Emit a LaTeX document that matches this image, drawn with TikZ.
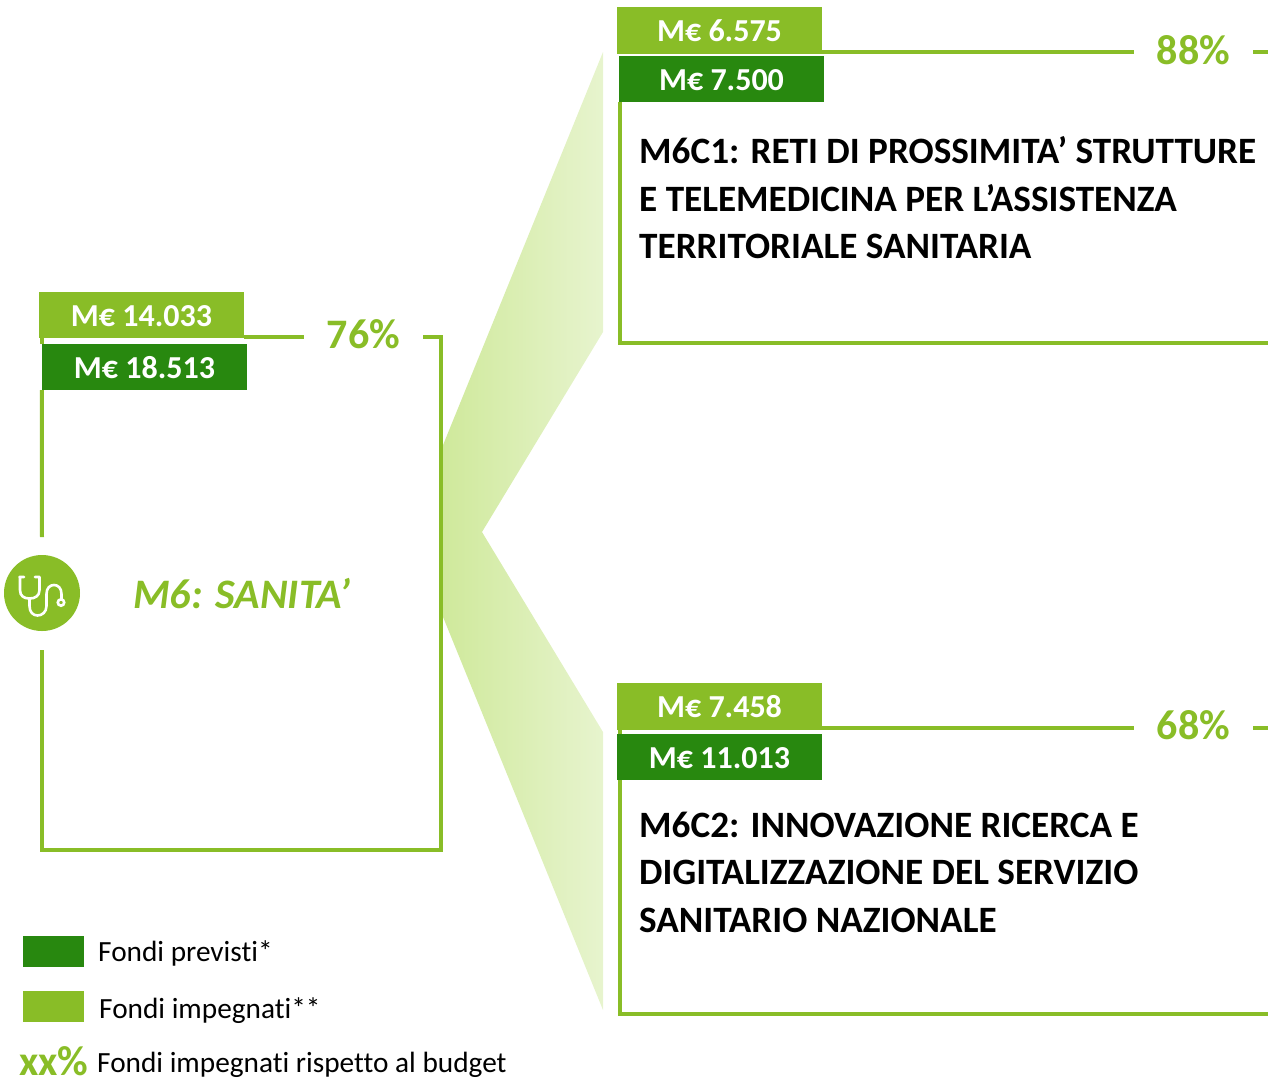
\documentclass[tikz,border=0pt]{standalone}
\usepackage{fontspec}
\setmainfont[Ligatures=NoCommon]{Carlito}
\usepackage{xcolor}
\usetikzlibrary{calc,positioning}
\definecolor{lightgreen}{HTML}{89BD27}
\definecolor{darkgreen}{HTML}{28880F}
\definecolor{funnelleft}{HTML}{CFE99B}
\definecolor{funnelright}{HTML}{E7F4CE}

\begin{document}
\begin{tikzpicture}[x=1pt,y=-1pt]

\tikzstyle{lightbadge} = [fill=lightgreen, text=white, rectangle, inner sep=0pt, minimum width=205pt, minimum height=46pt, text height=22.5pt, text depth=0pt, font=\fontsize{32}{32}\selectfont\bfseries]
\tikzstyle{darkbadge} = [fill=darkgreen, text=white, rectangle, inner sep=0pt, minimum width=205pt, minimum height=46pt, text height=22.5pt, text depth=0pt, font=\fontsize{32}{32}\selectfont\bfseries]
\tikzstyle{pct} = [text=lightgreen, inner sep=0pt, minimum width=119pt, font=\fontsize{42}{42}\selectfont\bfseries]
\tikzstyle{rule} = [draw=lightgreen, line width=4pt]
\tikzstyle{title} = [anchor=north west, inner sep=0pt, align=left, font=\fontsize{37.2}{47.5}\selectfont\bfseries]
\tikzstyle{legbox} = [rectangle, inner sep=0pt, minimum width=61pt, minimum height=31pt]
\tikzstyle{legtext} = [anchor=west, inner sep=0pt, font=\fontsize{29.3}{29.3}\selectfont]

\useasboundingbox (0,0) rectangle (1268,1080);

% funnel
\shade[left color=funnelleft, middle color=funnelleft, right color=funnelright]
  (441,450) -- (603,52) -- (603,332) -- (482,532) -- (603,732) -- (603,1010) -- (441,612) -- cycle;

% frame ends
\coordinate (m6top) at (42,537);
\coordinate (m6bot) at (42,650);
\coordinate (c1end) at (1268,52);
\coordinate (c1base) at (1268,343);
\coordinate (c2end) at (1268,728);
\coordinate (c2base) at (1268,1014);

% badges
\node (m6light) [lightbadge] at (141.5,315) {M€ 14.033};
\node (m6dark) [darkbadge] at (144.5,367) {M€ 18.513};
\node (c1light) [lightbadge,minimum height=47pt] at (719.5,30.5) {M€ 6.575};
\node (c1dark) [darkbadge] at (721.5,79) {M€ 7.500};
\node (c2light) [lightbadge,minimum height=47pt] at (719.5,706.5) {M€ 7.458};
\node (c2dark) [darkbadge] at (719.5,757) {M€ 11.013};

% percentages
\node (m6pct) [pct] at (363.5,334) {76\%};
\node (c1pct) [pct] at (1193.5,50) {88\%};
\node (c2pct) [pct] at (1193.5,725) {68\%};

% frames
\draw [rule] (m6light.east |- 0,337) -- (m6pct.west |- 0,337);
\draw [rule] (m6pct.east |- 0,337) -- (441,337) -- (441,850) -- (42,850) -- (m6bot);
\draw [rule] (m6dark.south west) -- (m6top);
\draw [rule] (42,338) -- (42,344);
\draw [rule] (c1light.east |- c1end) -- (c1pct.west |- c1end);
\draw [rule] (c1pct.east |- c1end) -- (c1end);
\draw [rule] (620,102) -- (620,343) -- (c1base);
\draw [rule] (c2light.east |- c2end) -- (c2pct.west |- c2end);
\draw [rule] (c2pct.east |- c2end) -- (c2end);
\draw [rule] (620,730) -- (620,734);
\draw [rule] (620,780) -- (620,1014) -- (c2base);

% icon
\node (m6icon) [fill=lightgreen, circle, inner sep=0pt, minimum size=76pt] at (42,593) {};
\draw [white, line width=2.6pt, line cap=round, line join=round]
  (19.5,577) -- (24,577) (20,577) -- (20,590) .. controls (20,596) and (24,598.5) .. (29.5,598.5)
  .. controls (35,598.5) and (39.5,596) .. (39.5,590) -- (39.5,577) -- (35,577)
  (29.5,598.5) -- (29.5,606) .. controls (29.5,612) and (33,615.5) .. (37.5,615.5)
  .. controls (42,615.5) and (46.5,612) .. (46.5,606) -- (46.5,594)
  .. controls (46.5,588) and (50,585) .. (54,585) .. controls (58,585) and (61.5,588) .. (61.5,594) -- (61.5,599);
\draw [white, line width=2.6pt] (61,602.5) circle (3.2);

% labels
\node (m6label) [inner sep=0pt, text=lightgreen, font=\fontsize{42}{42}\selectfont\bfseries\itshape] at (242,594) {M6: SANITA’};
\node (c1title) [title] at (639,136.5) {M6C1: RETI DI PROSSIMITA’ STRUTTURE\\E TELEMEDICINA PER L’ASSISTENZA\\TERRITORIALE SANITARIA};
\node (c2title) [title] at (639,811.5) {M6C2: INNOVAZIONE RICERCA E\\DIGITALIZZAZIONE DEL SERVIZIO\\SANITARIO NAZIONALE};

% legend
\node (legdark) [legbox, fill=darkgreen] at (53.5,951.5) {};
\node (leglight) [legbox, fill=lightgreen] at (53.5,1006.5) {};
\node (legdarktext) [legtext] at (98,953) {Fondi previsti*};
\node (leglighttext) [legtext] at (99,1011) {Fondi impegnati**};
\node (legpct) [anchor=west, inner sep=0pt, text=lightgreen, font=\fontsize{42}{42}\selectfont\bfseries] at (19,1061) {xx\%};
\node (legpcttext) [legtext] at (97,1065) {Fondi impegnati rispetto al budget};

\end{tikzpicture}
\end{document}
